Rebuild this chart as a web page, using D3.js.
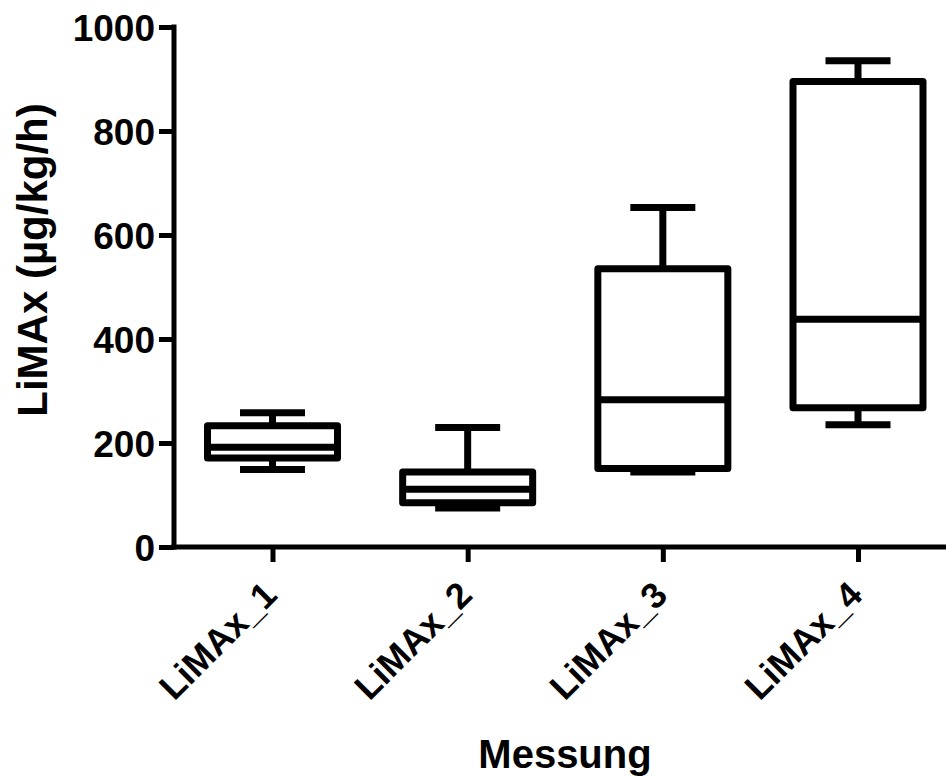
<!DOCTYPE html>
<html>
<head>
<meta charset="utf-8">
<script src="https://cdn.jsdelivr.net/npm/d3@7"></script>
<style>
  html, body { margin: 0; padding: 0; background: #fff; }
  svg { display: block; font-family: "Liberation Sans", Arial, sans-serif; font-weight: bold; }
</style>
</head>
<body>
<svg id="chart" width="948" height="776"></svg>
<script>
// ---- data ----
const categories = ["LiMAx_1", "LiMAx_2", "LiMAx_3", "LiMAx_4"];
const whiskerLow  = [149, 75, 144, 235];
const q1          = [171, 85, 151, 268];
const median      = [192, 111, 283, 438];
const q3          = [233, 144, 535, 895];
const whiskerHigh = [258, 230, 653, 935];
const yTicks = [0, 200, 400, 600, 800, 1000];
const xTitle = "Messung";
const yTitle = "LiMAx (µg/kg/h)";

const boxes = categories.map((c, i) => ({
  cat: c, lo: whiskerLow[i], q1: q1[i], med: median[i], q3: q3[i], hi: whiskerHigh[i]
}));

// ---- layout ----
const svg = d3.select("#chart");
const axisX = 174, axisY = 547, topY = 27, rightX = 946;
const sw = 7; // box stroke width
const FONT = "'Liberation Sans', Arial, sans-serif";

const y = d3.scaleLinear().domain([0, 1000]).range([axisY, topY]);
const x = d3.scalePoint().domain(categories).range([272.5, 858]);
const boxW = 130, capW = 65;

// y axis
const yAxis = svg.append("g")
  .attr("transform", `translate(${axisX},0)`)
  .call(d3.axisLeft(y).tickValues(yTicks).tickSize(15).tickPadding(4).tickFormat(d3.format("d")));
yAxis.select(".domain").remove();
yAxis.selectAll(".tick line").attr("stroke", "#000").attr("stroke-width", 5);
yAxis.selectAll(".tick text").attr("font-size", 37).attr("font-weight", "bold")
  .attr("font-family", FONT).attr("fill", "#000").attr("dy", "0.36em");
svg.append("line").attr("x1", axisX).attr("x2", axisX).attr("y1", topY - 2.5).attr("y2", axisY + 2.5)
  .attr("stroke", "#000").attr("stroke-width", 5);

// x axis
const xAxis = svg.append("g")
  .attr("transform", `translate(0,${axisY})`)
  .call(d3.axisBottom(x).tickSize(15).tickPadding(6));
xAxis.select(".domain").remove();
xAxis.selectAll(".tick line").attr("stroke", "#000").attr("stroke-width", 5);
xAxis.selectAll(".tick text")
  .attr("font-size", 36).attr("font-weight", "bold")
  .attr("font-family", FONT).attr("fill", "#000")
  .attr("text-anchor", "end")
  .attr("x", 0).attr("y", 0).attr("dy", 0)
  .attr("transform", "translate(6,50) rotate(-45)");
svg.append("line").attr("x1", axisX - 2.5).attr("x2", rightX).attr("y1", axisY).attr("y2", axisY)
  .attr("stroke", "#000").attr("stroke-width", 5);

// boxes
const g = svg.append("g").attr("stroke", "#000").attr("stroke-width", sw).attr("fill", "none");
const bx = g.selectAll("g.box").data(boxes).join("g").attr("class", "box");
// whisker stems
bx.append("line").attr("x1", d => x(d.cat)).attr("x2", d => x(d.cat))
  .attr("y1", d => y(d.hi)).attr("y2", d => y(d.q3));
bx.append("line").attr("x1", d => x(d.cat)).attr("x2", d => x(d.cat))
  .attr("y1", d => y(d.lo)).attr("y2", d => y(d.q1));
// caps
bx.append("line").attr("x1", d => x(d.cat) - capW / 2).attr("x2", d => x(d.cat) + capW / 2)
  .attr("y1", d => y(d.hi)).attr("y2", d => y(d.hi));
bx.append("line").attr("x1", d => x(d.cat) - capW / 2).attr("x2", d => x(d.cat) + capW / 2)
  .attr("y1", d => y(d.lo)).attr("y2", d => y(d.lo));
// box
bx.append("rect")
  .attr("x", d => x(d.cat) - boxW / 2).attr("width", boxW)
  .attr("y", d => y(d.q3)).attr("height", d => y(d.q1) - y(d.q3))
  .attr("fill", "#fff").attr("stroke-linejoin", "round");
// median
bx.append("line").attr("x1", d => x(d.cat) - boxW / 2).attr("x2", d => x(d.cat) + boxW / 2)
  .attr("y1", d => y(d.med)).attr("y2", d => y(d.med));

// titles
svg.append("text").attr("x", 565).attr("y", 768).attr("text-anchor", "middle")
  .attr("font-size", 40).attr("font-weight", "bold").attr("font-family", FONT)
  .attr("fill", "#000").text(xTitle);
svg.append("text").attr("transform", `translate(47,260) rotate(-90)`)
  .attr("text-anchor", "middle").attr("font-size", 42).attr("font-weight", "bold")
  .attr("font-family", FONT).attr("fill", "#000").text(yTitle);
</script>
</body>
</html>
